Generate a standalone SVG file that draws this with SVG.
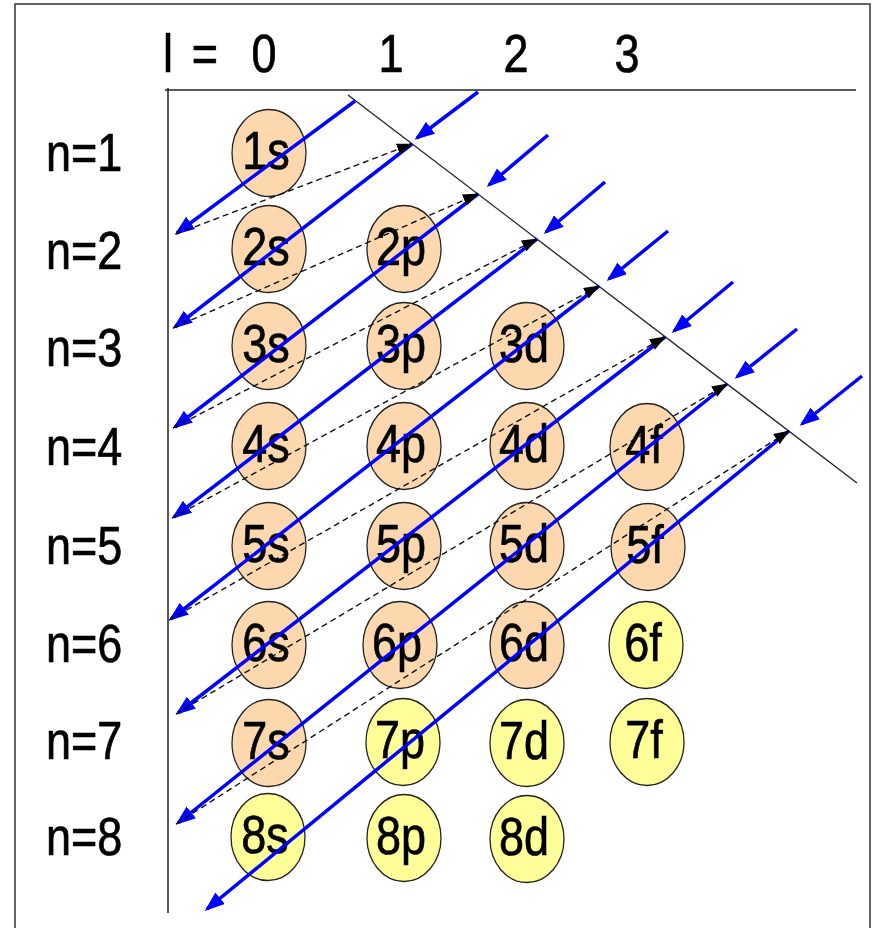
<svg xmlns="http://www.w3.org/2000/svg" width="874" height="928" viewBox="0 0 874 928">
<style>
.t{font-family:"Liberation Sans",Arial,sans-serif;font-size:45px;fill:#000;stroke:#000;stroke-width:0.6;}
.m{text-anchor:middle;}
.pe{fill:#FDD8AE;stroke:#222;stroke-width:1.3;}
.ye{fill:#FFFF99;stroke:#222;stroke-width:1.3;}
.blue{stroke:#0000FF;stroke-width:3.5;fill:none;marker-end:url(#bh);}
.dash{stroke:#111;stroke-width:1.4;stroke-dasharray:6 4;fill:none;marker-end:url(#kh);}
.ax{stroke:#222;stroke-width:1.5;fill:none;}
</style>
<defs>
<marker id="bh" markerUnits="userSpaceOnUse" markerWidth="22" markerHeight="16" refX="17" refY="7.5" orient="auto">
<path d="M0,0 L20,7.5 L0,15 z" fill="#0000FF"/>
</marker>
<marker id="kh" markerUnits="userSpaceOnUse" markerWidth="18" markerHeight="14" refX="15" refY="6" orient="auto">
<path d="M0,0 L16,6 L0,12 z" fill="#000"/>
</marker>
</defs>
<rect x="15" y="4" width="855" height="940" fill="#fff" stroke="#333" stroke-width="1.5"/>
<g id="axes">
<line class="ax" x1="165" y1="90" x2="856" y2="90"/>
<line class="ax" x1="168" y1="88" x2="168" y2="913"/>
<line stroke="#222" stroke-width="1.3" x1="348" y1="95" x2="857" y2="483"/>
</g>
<g id="header">
<text class="t m" transform="translate(168,72) scale(1,1.18)">l</text>
<text class="t m" transform="translate(205,72) scale(1,1.18)">=</text>
<text class="t m" transform="translate(264,72) scale(1,1.18)">0</text>
<text class="t m" transform="translate(391,72) scale(1,1.18)">1</text>
<text class="t m" transform="translate(516,72) scale(1,1.18)">2</text>
<text class="t m" transform="translate(627,72) scale(1,1.18)">3</text>
</g>
<g id="rowlabels">
<text class="t" transform="translate(46,171) scale(1,1.18)">n=1</text>
<text class="t" transform="translate(46,269) scale(1,1.18)">n=2</text>
<text class="t" transform="translate(46,366) scale(1,1.18)">n=3</text>
<text class="t" transform="translate(46,465) scale(1,1.18)">n=4</text>
<text class="t" transform="translate(46,564) scale(1,1.18)">n=5</text>
<text class="t" transform="translate(46,662) scale(1,1.18)">n=6</text>
<text class="t" transform="translate(46,759) scale(1,1.18)">n=7</text>
<text class="t" transform="translate(46,855) scale(1,1.18)">n=8</text>
</g>
<g id="n1s"><ellipse class="pe" cx="269" cy="153" rx="37" ry="43.5"/><text class="t m" transform="translate(266,169) scale(1,1.18)">1s</text></g>
<g id="n2s"><ellipse class="pe" cx="269" cy="249" rx="37" ry="43.5"/><text class="t m" transform="translate(266,265) scale(1,1.18)">2s</text></g>
<g id="n2p"><ellipse class="pe" cx="404" cy="249" rx="37" ry="43.5"/><text class="t m" transform="translate(401,265) scale(1,1.18)">2p</text></g>
<g id="n3s"><ellipse class="pe" cx="269" cy="346" rx="37" ry="43.5"/><text class="t m" transform="translate(266,362) scale(1,1.18)">3s</text></g>
<g id="n3p"><ellipse class="pe" cx="404" cy="346" rx="37" ry="43.5"/><text class="t m" transform="translate(401,362) scale(1,1.18)">3p</text></g>
<g id="n3d"><ellipse class="pe" cx="527" cy="346" rx="37" ry="43.5"/><text class="t m" transform="translate(524,362) scale(1,1.18)">3d</text></g>
<g id="n4s"><ellipse class="pe" cx="269" cy="446" rx="37" ry="43.5"/><text class="t m" transform="translate(266,462) scale(1,1.18)">4s</text></g>
<g id="n4p"><ellipse class="pe" cx="404" cy="446" rx="37" ry="43.5"/><text class="t m" transform="translate(401,462) scale(1,1.18)">4p</text></g>
<g id="n4d"><ellipse class="pe" cx="527" cy="446" rx="37" ry="43.5"/><text class="t m" transform="translate(524,462) scale(1,1.18)">4d</text></g>
<g id="n4f"><ellipse class="pe" cx="647" cy="447" rx="37" ry="43.5"/><text class="t m" transform="translate(644,463) scale(1,1.18)">4f</text></g>
<g id="n5s"><ellipse class="pe" cx="269" cy="546" rx="37" ry="43.5"/><text class="t m" transform="translate(266,562) scale(1,1.18)">5s</text></g>
<g id="n5p"><ellipse class="pe" cx="404" cy="546" rx="37" ry="43.5"/><text class="t m" transform="translate(401,562) scale(1,1.18)">5p</text></g>
<g id="n5d"><ellipse class="pe" cx="527" cy="546" rx="37" ry="43.5"/><text class="t m" transform="translate(524,562) scale(1,1.18)">5d</text></g>
<g id="n5f"><ellipse class="pe" cx="648" cy="547" rx="37" ry="43.5"/><text class="t m" transform="translate(645,563) scale(1,1.18)">5f</text></g>
<g id="n6s"><ellipse class="pe" cx="269" cy="645" rx="37" ry="43.5"/><text class="t m" transform="translate(266,661) scale(1,1.18)">6s</text></g>
<g id="n6p"><ellipse class="pe" cx="400" cy="645" rx="37" ry="43.5"/><text class="t m" transform="translate(397,661) scale(1,1.18)">6p</text></g>
<g id="n6d"><ellipse class="pe" cx="527" cy="645" rx="37" ry="43.5"/><text class="t m" transform="translate(524,661) scale(1,1.18)">6d</text></g>
<g id="n6f"><ellipse class="ye" cx="646" cy="645" rx="37" ry="43.5"/><text class="t m" transform="translate(643,661) scale(1,1.18)">6f</text></g>
<g id="n7s"><ellipse class="pe" cx="269" cy="743" rx="37" ry="43.5"/><text class="t m" transform="translate(266,759) scale(1,1.18)">7s</text></g>
<g id="n7p"><ellipse class="ye" cx="403" cy="742" rx="37" ry="43.5"/><text class="t m" transform="translate(400,758) scale(1,1.18)">7p</text></g>
<g id="n7d"><ellipse class="ye" cx="527" cy="743" rx="37" ry="43.5"/><text class="t m" transform="translate(524,759) scale(1,1.18)">7d</text></g>
<g id="n7f"><ellipse class="ye" cx="647" cy="742" rx="37" ry="43.5"/><text class="t m" transform="translate(644,758) scale(1,1.18)">7f</text></g>
<g id="n8s"><ellipse class="ye" cx="268" cy="837" rx="37" ry="43.5"/><text class="t m" transform="translate(265,853) scale(1,1.18)">8s</text></g>
<g id="n8p"><ellipse class="ye" cx="404" cy="838" rx="37" ry="43.5"/><text class="t m" transform="translate(401,854) scale(1,1.18)">8p</text></g>
<g id="n8d"><ellipse class="ye" cx="527" cy="839" rx="37" ry="43.5"/><text class="t m" transform="translate(524,855) scale(1,1.18)">8d</text></g>
<g id="connectors">
<line class="blue" x1="355" y1="101" x2="177" y2="233"/>
<line class="blue" x1="412" y1="144" x2="175" y2="327"/>
<line class="blue" x1="478" y1="194" x2="175" y2="427"/>
<line class="blue" x1="537" y1="239" x2="174" y2="517"/>
<line class="blue" x1="599" y1="286" x2="171" y2="619"/>
<line class="blue" x1="665" y1="337" x2="178" y2="713"/>
<line class="blue" x1="727" y1="384" x2="178" y2="823"/>
<line class="blue" x1="789" y1="431" x2="207" y2="909"/>
<line class="blue" x1="478" y1="92" x2="417" y2="138"/>
<line class="blue" x1="548" y1="135" x2="489" y2="185"/>
<line class="blue" x1="605" y1="182" x2="546" y2="232"/>
<line class="blue" x1="668" y1="231" x2="609" y2="279"/>
<line class="blue" x1="733" y1="282" x2="674" y2="331"/>
<line class="blue" x1="797" y1="329" x2="737" y2="377"/>
<line class="blue" x1="862" y1="376" x2="802" y2="424"/>
<line class="dash" x1="176" y1="234" x2="412" y2="144"/>
<line class="dash" x1="173" y1="328" x2="478" y2="194"/>
<line class="dash" x1="173" y1="428" x2="537" y2="239"/>
<line class="dash" x1="172" y1="518" x2="599" y2="286"/>
<line class="dash" x1="169" y1="620" x2="665" y2="337"/>
<line class="dash" x1="176" y1="714" x2="727" y2="384"/>
<line class="dash" x1="176" y1="824" x2="789" y2="431"/>
</g>
</svg>
